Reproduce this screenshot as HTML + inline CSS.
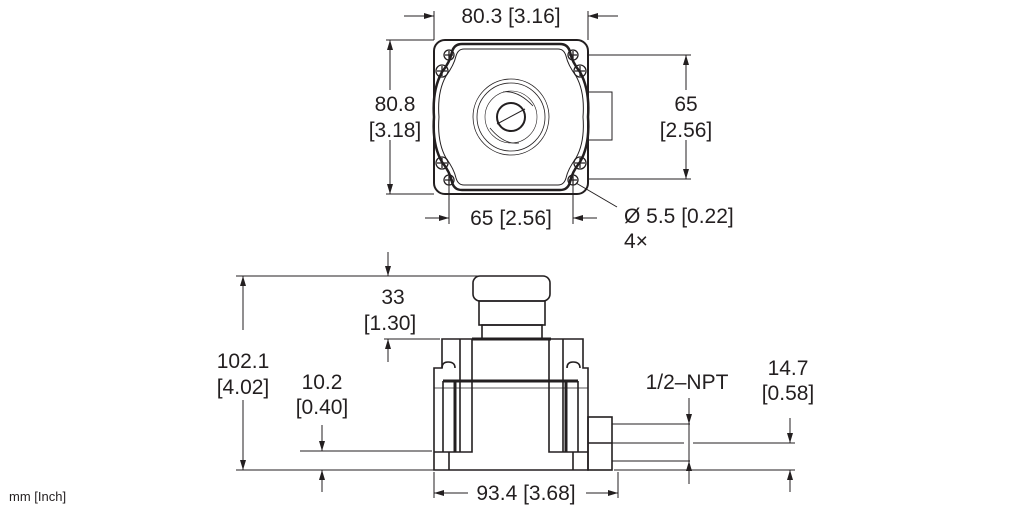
<!DOCTYPE html>
<html><head><meta charset="utf-8"><style>
html,body{margin:0;padding:0;background:#fff;}
svg{display:block;}
text{font-family:"Liberation Sans",sans-serif;font-size:21px;fill:#231f20;}
</style></head><body>
<svg width="1022" height="511" viewBox="0 0 1022 511" xmlns="http://www.w3.org/2000/svg">
<defs>
<marker id="a" viewBox="0 0 10 6" refX="10" refY="3" markerWidth="16" markerHeight="6" markerUnits="userSpaceOnUse" orient="auto"><path d="M0,0 L10,3 L0,6 z" fill="#231f20"/></marker>
</defs>
<g stroke="#231f20" fill="none" stroke-width="1">
<!-- TOP VIEW -->
<line x1="434" y1="11" x2="434" y2="40"/><line x1="588" y1="11" x2="588" y2="40"/>
<line x1="404" y1="16" x2="434" y2="16" marker-end="url(#a)"/><line x1="618" y1="16" x2="588" y2="16" marker-end="url(#a)"/>
<line x1="386" y1="40" x2="434" y2="40"/><line x1="386" y1="194" x2="434" y2="194"/>
<line x1="390" y1="90" x2="390" y2="40" marker-end="url(#a)"/><line x1="390" y1="140" x2="390" y2="194" marker-end="url(#a)"/>
<line x1="588" y1="55" x2="691" y2="55"/><line x1="588" y1="179" x2="691" y2="179"/>
<line x1="686" y1="90" x2="686" y2="55" marker-end="url(#a)"/><line x1="686" y1="140" x2="686" y2="179" marker-end="url(#a)"/>
<line x1="449" y1="180" x2="449" y2="224"/><line x1="573" y1="180" x2="573" y2="224"/>
<line x1="425" y1="218" x2="449" y2="218" marker-end="url(#a)"/><line x1="597" y1="218" x2="573" y2="218" marker-end="url(#a)"/>
<line x1="576" y1="183" x2="617" y2="207"/>
<rect x="434" y="40" width="154" height="154" rx="11" stroke-width="2"/>
<rect x="588" y="92" width="24" height="48"/>
<path d="M462,44 H560 Q568,44 570,52 Q572,62 580,72 Q590,90 588,117 Q590,145 580,162 Q572,172 570,182 Q568,190 560,190 H462 Q454,190 452,182 Q450,172 442,162 Q432,145 434,117 Q432,90 442,72 Q450,62 452,52 Q454,44 462,44 z" stroke-width="2.5"/>
<path d="M464,49 H558 Q564,49 566,56 Q568,65 576,76 Q585,92 583,117 Q585,142 576,158 Q568,169 566,178 Q564,185 558,185 H464 Q458,185 456,178 Q454,169 446,158 Q437,142 439,117 Q437,92 446,76 Q454,65 456,56 Q458,49 464,49 z"/>
<g stroke-width="1.3">
<circle cx="449" cy="55" r="5"/><circle cx="573" cy="55" r="5"/><circle cx="449" cy="180" r="5"/><circle cx="573" cy="180" r="5"/>
<path d="M445,55h8M449,51v8M569,55h8M573,51v8M445,180h8M449,176v8M569,180h8M573,176v8"/>
<circle cx="442" cy="71" r="6"/><circle cx="580" cy="71" r="6"/><circle cx="442" cy="163" r="6"/><circle cx="580" cy="163" r="6"/>
<path d="M437,71h10M442,66v10M575,71h10M580,66v10M437,163h10M442,158v10M575,163h10M580,158v10"/>
</g>
<circle cx="511" cy="117" r="38" stroke-width="0.8"/><circle cx="511" cy="117" r="34" stroke-width="0.8"/>
<circle cx="511" cy="117" r="26" stroke-width="0.6"/>
<circle cx="511" cy="117" r="14" stroke-width="2"/>
<line x1="497" y1="124" x2="525" y2="109"/>
<path d="M503,92 Q518,90 533,106" stroke-width="0.8"/><path d="M519,143 Q504,145 490,128" stroke-width="0.8"/>
<!-- SIDE VIEW -->
<line x1="236" y1="276" x2="510" y2="276"/>
<line x1="243" y1="330" x2="243" y2="276" marker-end="url(#a)"/><line x1="243" y1="400" x2="243" y2="470" marker-end="url(#a)"/>
<line x1="236" y1="470" x2="434" y2="470"/>
<line x1="388" y1="252" x2="388" y2="276" marker-end="url(#a)"/><line x1="388" y1="362" x2="388" y2="339" marker-end="url(#a)"/>
<line x1="384" y1="339" x2="440" y2="339"/>
<line x1="300" y1="451" x2="432" y2="451"/>
<line x1="322" y1="425" x2="322" y2="451" marker-end="url(#a)"/><line x1="322" y1="492" x2="322" y2="470" marker-end="url(#a)"/>
<line x1="434" y1="472" x2="434" y2="498"/><line x1="618" y1="472" x2="618" y2="498"/>
<line x1="468" y1="493" x2="434" y2="493" marker-end="url(#a)"/><line x1="586" y1="493" x2="618" y2="493" marker-end="url(#a)"/>
<line x1="612" y1="424" x2="690" y2="424"/><line x1="612" y1="443" x2="684" y2="443"/><line x1="612" y1="461" x2="690" y2="461"/>
<line x1="693" y1="443" x2="795" y2="443"/><line x1="614" y1="470" x2="795" y2="470"/>
<line x1="689" y1="398" x2="689" y2="424" marker-end="url(#a)"/><line x1="689" y1="484" x2="689" y2="461" marker-end="url(#a)"/>
<line x1="689" y1="424" x2="689" y2="461"/>
<line x1="790" y1="418" x2="790" y2="443" marker-end="url(#a)"/><line x1="790" y1="492" x2="790" y2="470" marker-end="url(#a)"/>
<!-- body -->
<g stroke-width="1.6">
<rect x="473" y="276" width="77" height="25" rx="7"/>
<rect x="479" y="301" width="66" height="24"/>
<rect x="482" y="325" width="60" height="14"/>
<line x1="472" y1="339" x2="551" y2="339" stroke-width="3"/>
<path d="M434,470 V368 H442 V339 H583 V368 H588 V470 Z"/>
<path d="M442,368 Q442,362 448,362 Q455,362 455,368"/><path d="M567,368 Q567,362 573,362 Q580,362 580,368"/>
<line x1="443" y1="381" x2="578" y2="381" stroke-width="3"/>
<line x1="434" y1="388" x2="588" y2="388" stroke-width="0.8"/>
<path d="M443,381 V452 M578,381 V452"/>
<path d="M460,339 V452 M472,339 V452 H434 M549,339 V452 H588 M563,339 V452"/>
<line x1="455" y1="381" x2="455" y2="452" stroke-width="3"/><line x1="566" y1="381" x2="566" y2="452" stroke-width="3"/>
<path d="M449,452 V470 M573,452 V470"/>
<rect x="588" y="417" width="24" height="53"/><line x1="588" y1="443" x2="612" y2="443"/>
</g>
</g>
<g text-anchor="middle">
<text x="511" y="23">80.3 [3.16]</text>
<text x="395" y="111">80.8</text><text x="395" y="137">[3.18]</text>
<text x="686" y="111">65</text><text x="686" y="137">[2.56]</text>
<text x="511" y="225">65 [2.56]</text>
<text x="393" y="304">33</text><text x="390" y="330">[1.30]</text>
<text x="243" y="368">102.1</text><text x="243" y="394">[4.02]</text>
<text x="322" y="389">10.2</text><text x="322" y="414">[0.40]</text>
<text x="687" y="389">1/2–NPT</text>
<text x="788" y="375">14.7</text><text x="788" y="400">[0.58]</text>
<text x="526" y="500">93.4 [3.68]</text>
</g>
<text x="624" y="223">Ø 5.5 [0.22]</text>
<text x="624" y="248">4×</text>
<text x="9" y="501" style="font-size:13px">mm [Inch]</text>
</svg>
</body></html>
